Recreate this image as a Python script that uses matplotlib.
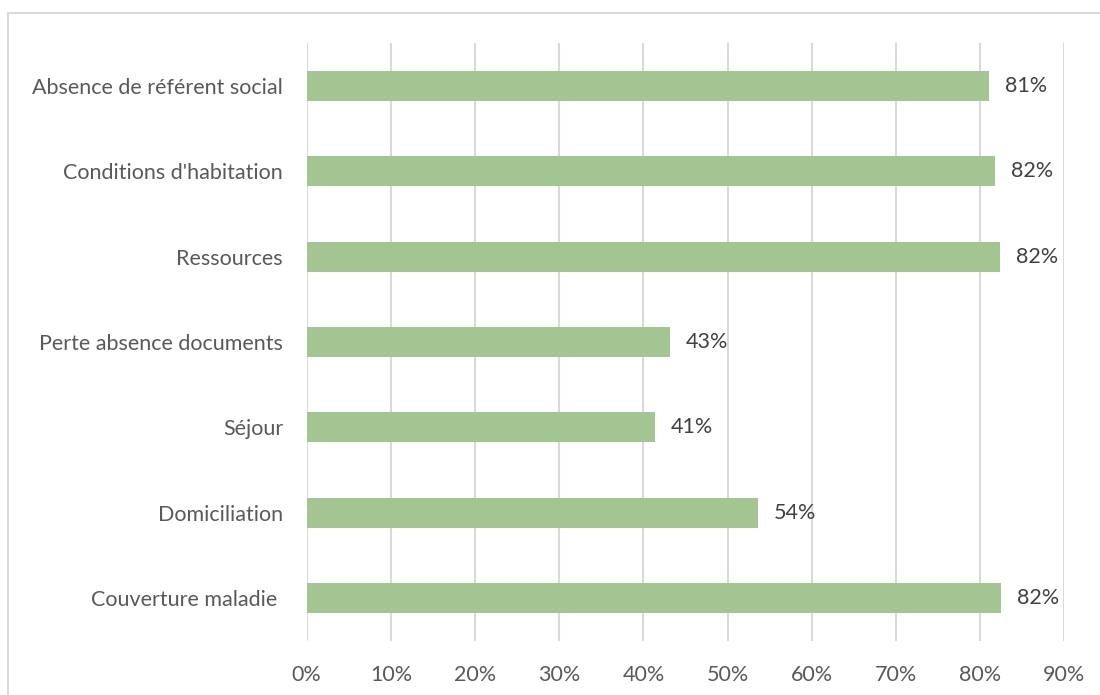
import matplotlib.pyplot as plt
from matplotlib.patches import Rectangle
from matplotlib.ticker import FuncFormatter

# Share of each difficulty (percent), listed bottom to top
categories = [
    "Couverture maladie ",
    "Domiciliation",
    "Séjour",
    "Perte absence documents",
    "Ressources",
    "Conditions d'habitation",
    "Absence de référent social",
]
values = [82.5, 53.6, 41.4, 43.1, 82.3, 81.8, 81.1]
x_ticks = [0, 10, 20, 30, 40, 50, 60, 70, 80, 90]

bar_color = "#A2C591"
grid_color = "#D9D9D9"
text_color = "#595959"

plt.rcParams["font.family"] = ["Lato", "DejaVu Sans"]

fig = plt.figure(figsize=(11, 6.95), dpi=100)
ax = fig.add_axes([0.2788, 0.0777, 0.6888, 0.8604])

y_pos = range(len(categories))
bars = ax.barh(y_pos, values, height=0.35, color=bar_color, zorder=3)

for bar, v in zip(bars, values):
    ax.text(bar.get_width() + 1.9, bar.get_y() + bar.get_height() / 2,
            f"{round(v):.0f}%", va="center", ha="left",
            fontsize=15.5, color="#404040")

ax.set_xlim(0, 90)
ax.set_ylim(-0.5, len(categories) - 0.5)
ax.set_xticks(x_ticks)
ax.xaxis.set_major_formatter(FuncFormatter(lambda x, _: f"{x:.0f}%"))
ax.set_yticks(list(y_pos))
ax.set_yticklabels(categories)

ax.grid(axis="x", color=grid_color, linewidth=1.5, zorder=0)
ax.grid(axis="y", visible=False)
for side in ["top", "right", "bottom", "left"]:
    ax.spines[side].set_visible(False)

ax.tick_params(axis="both", length=0, labelsize=15.5, labelcolor=text_color)
ax.tick_params(axis="x", pad=17)
ax.tick_params(axis="y", pad=17)

# light frame around the chart area (top and left edges visible)
fig.patches.append(Rectangle((8 / 1100, -0.1), 1.2, 1.1 - 13 / 695,
                             transform=fig.transFigure, fill=False,
                             edgecolor=grid_color, linewidth=1.5))

fig.savefig("out.png", dpi=100, facecolor="white")
